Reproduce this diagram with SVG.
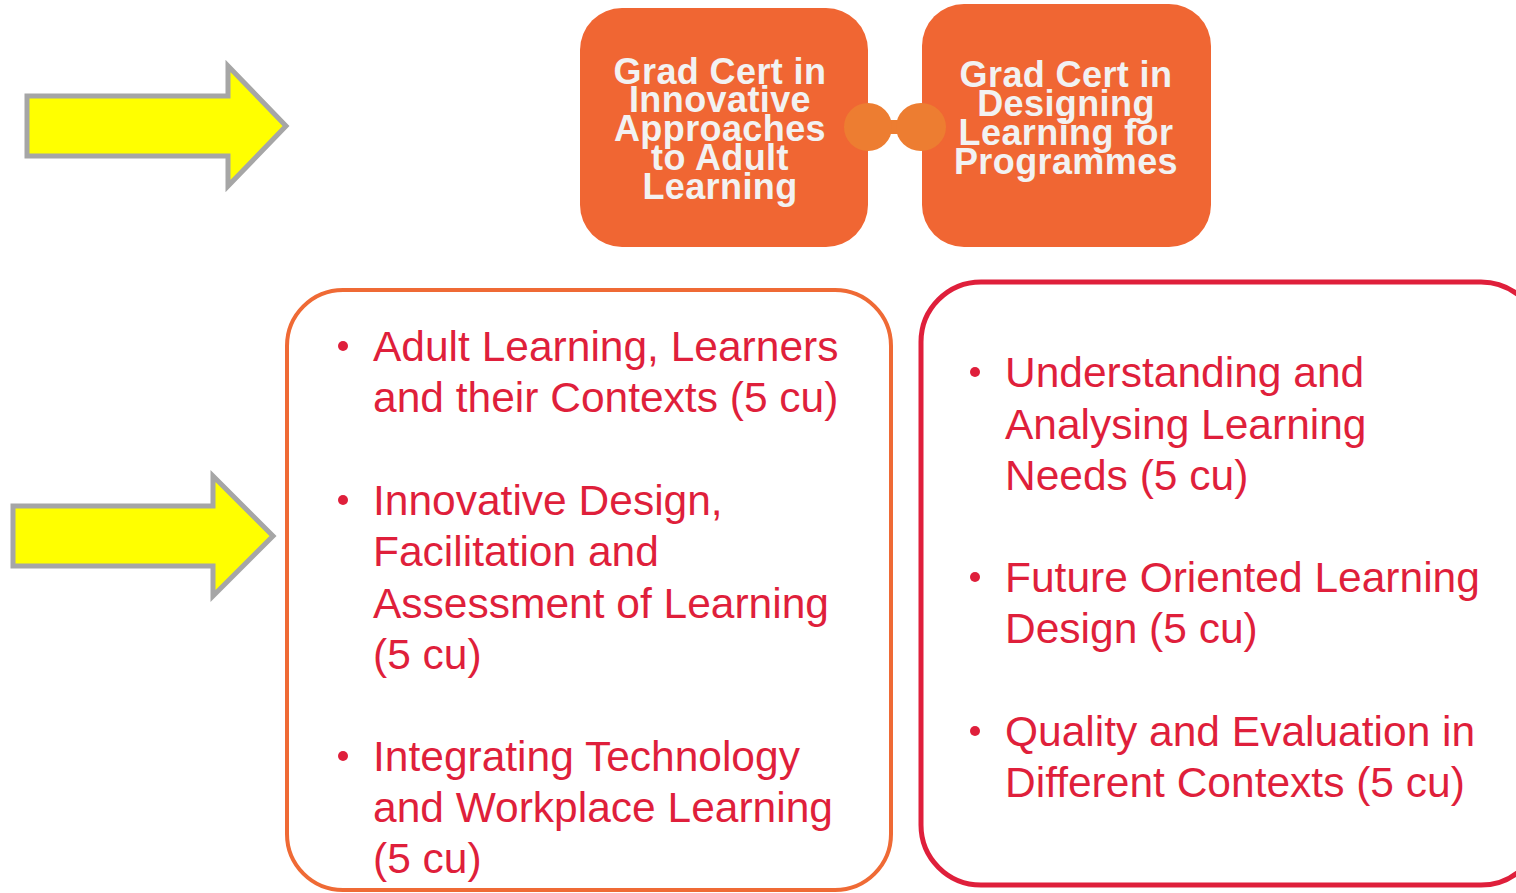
<svg xmlns="http://www.w3.org/2000/svg" width="1516" height="893" viewBox="0 0 1516 893">
<style>
.box{fill:#F06633;}
.ttl{font-family:"Liberation Sans",Arial,sans-serif;font-weight:bold;font-size:36px;fill:#F2F2F2;text-anchor:middle;letter-spacing:0.4px;}
.arrow{fill:#FFFF00;stroke:#A6A6A6;stroke-width:5;}
.item{font-family:"Liberation Sans",Arial,sans-serif;font-size:42.5px;fill:#DF1F3B;}
.dot{fill:#DF1F3B;}
</style>
<rect width="1516" height="893" fill="#FFFFFF"/>
<g id="arrow1"><polygon class="arrow" points="27,96 228,96 228,66 286,126 228,186 228,156 27,156"/></g>
<g id="arrow2"><polygon class="arrow" points="13,506 213,506 213,476 273,536 213,596 213,566 13,566"/></g>
<g id="cert1">
<rect class="box" x="580" y="8" width="288" height="239" rx="42"/>
<text class="ttl" x="720" y="84">Grad Cert in</text>
<text class="ttl" x="720" y="112">Innovative</text>
<text class="ttl" x="720" y="141">Approaches</text>
<text class="ttl" x="720" y="170">to Adult</text>
<text class="ttl" x="720" y="199">Learning</text>
</g>
<g id="cert2">
<rect class="box" x="922" y="4" width="289" height="243" rx="42"/>
<text class="ttl" x="1066" y="87">Grad Cert in</text>
<text class="ttl" x="1066" y="116">Designing</text>
<text class="ttl" x="1066" y="145">Learning for</text>
<text class="ttl" x="1066" y="174">Programmes</text>
</g>
<g id="connectors">
<rect x="866" y="120" width="56" height="14" fill="#ED7D31"/>
<ellipse cx="868" cy="127" rx="24" ry="24" fill="#ED7D31"/>
<ellipse cx="921" cy="127" rx="25" ry="24" fill="#ED7D31"/>
</g>
<g id="list1">
<rect x="287" y="290" width="604" height="600" rx="56" fill="none" stroke="#EF6A35" stroke-width="4"/>
<circle class="dot" cx="343" cy="346" r="5"/>
<text class="item" x="373" y="361">Adult Learning, Learners</text>
<text class="item" x="373" y="412">and their Contexts (5 cu)</text>
<circle class="dot" cx="343" cy="500" r="5"/>
<text class="item" x="373" y="515">Innovative Design,</text>
<text class="item" x="373" y="566">Facilitation and</text>
<text class="item" x="373" y="618">Assessment of Learning</text>
<text class="item" x="373" y="669">(5 cu)</text>
<circle class="dot" cx="343" cy="756" r="5"/>
<text class="item" x="373" y="771">Integrating Technology</text>
<text class="item" x="373" y="822">and Workplace Learning</text>
<text class="item" x="373" y="873">(5 cu)</text>
</g>
<g id="list2">
<rect x="921" y="282" width="620" height="603" rx="60" fill="none" stroke="#DF1F3B" stroke-width="5"/>
<circle class="dot" cx="975" cy="372" r="5"/>
<text class="item" x="1005" y="387">Understanding and</text>
<text class="item" x="1005" y="439">Analysing Learning</text>
<text class="item" x="1005" y="490">Needs (5 cu)</text>
<circle class="dot" cx="975" cy="577" r="5"/>
<text class="item" x="1005" y="592">Future Oriented Learning</text>
<text class="item" x="1005" y="643">Design (5 cu)</text>
<circle class="dot" cx="975" cy="731" r="5"/>
<text class="item" x="1005" y="746">Quality and Evaluation in</text>
<text class="item" x="1005" y="797">Different Contexts (5 cu)</text>
</g>
</svg>
